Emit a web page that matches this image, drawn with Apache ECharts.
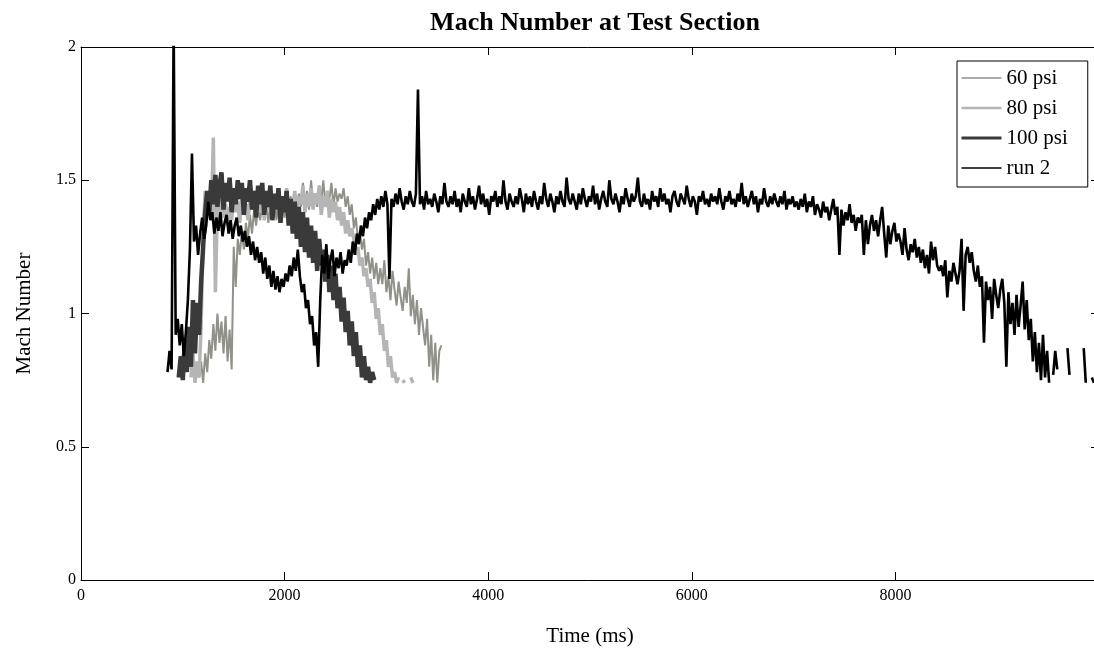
<!DOCTYPE html>
<html>
<head>
<meta charset="utf-8">
<script src="https://cdn.jsdelivr.net/npm/echarts@6/dist/echarts.min.js"></script>
<style>
html,body{margin:0;padding:0;background:#fff;}
#chart{width:1094px;height:658px;}
</style>
</head>
<body>
<div id="chart"></div>
<script>
// ---- data ----
const chartTitle = 'Mach Number at Test Section';
const xAxisName = 'Time (ms)';
const yAxisName = 'Mach Number';
const seriesNames = ['60 psi', '80 psi', '100 psi', 'run 2'];
const xMin = 0, xMax = 10000, xInterval = 2000;
const yMin = 0, yMax = 2, yInterval = 0.5;
const sampleStepMs = 20;   // sampling interval of every trace (ms)

const psi60Start = 1160;
const psi60Values = [
  0.76,0.82,0.74,0.85,0.78,0.90,0.83,0.96,0.86,1.00,
  0.89,0.97,0.85,0.99,0.82,0.94,0.79,1.25,1.10,1.28,
  1.22,1.31,1.24,1.34,1.28,1.37,1.30,1.39,1.33,1.40,
  1.35,1.41,1.36,1.43,1.34,1.40,1.37,1.42,1.35,1.41,
  1.38,1.43,1.36,1.42,1.39,1.44,1.37,1.41,1.38,1.45,
  1.40,1.49,1.41,1.46,1.39,1.50,1.42,1.45,1.40,1.48,
  1.42,1.50,1.41,1.46,1.43,1.49,1.40,1.47,1.42,1.45,
  1.43,1.47,1.40,1.44,1.37,1.41,1.32,1.36,1.28,1.31,
  1.24,1.28,1.18,1.23,1.15,1.21,1.13,1.19,1.11,1.17,
  1.11,1.20,1.08,1.14,1.05,1.16,1.09,1.03,1.12,1.06,
  1.01,1.10,1.04,1.17,0.99,1.07,0.96,1.05,0.92,1.02,
  0.95,0.88,0.98,0.80,0.92,0.75,0.89,0.74,0.86,0.88
];

const psi80Start = 1080;
const psi80Values = [
  0.76,0.85,0.74,0.82,0.76,0.95,1.30,1.46,1.38,1.44,
  1.36,1.66,1.08,1.40,1.34,1.43,1.36,1.41,1.33,1.40,
  1.35,1.44,1.38,1.42,1.34,1.45,1.37,1.41,1.35,1.43,
  1.39,1.46,1.36,1.42,1.38,1.45,1.35,1.41,1.39,1.44,
  1.37,1.43,1.40,1.46,1.36,1.42,1.39,1.47,1.38,1.43,
  1.40,1.46,1.37,1.44,1.41,1.48,1.38,1.45,1.40,1.47,
  1.39,1.45,1.41,1.48,1.37,1.44,1.40,1.46,1.36,1.43,
  1.38,1.42,1.35,1.40,1.33,1.38,1.30,1.35,1.29,1.32,
  1.28,1.22,1.25,1.18,1.21,1.14,1.17,1.10,1.13,1.04,
  1.08,0.98,1.02,0.92,0.96,0.86,0.90,0.80,0.84,0.76,
  0.78,0.74,0.76,null,0.75,0.74,null,null,0.76,0.74
];

const psi100Start = 960;
const psi100Values = [
  0.76,0.84,0.75,0.90,0.78,0.95,0.80,1.05,0.85,1.04,
  0.92,1.12,1.25,1.38,1.46,1.38,1.50,1.41,1.52,1.40,
  1.48,1.53,1.39,1.49,1.42,1.51,1.38,1.47,1.41,1.50,
  1.43,1.49,1.37,1.47,1.42,1.50,1.39,1.46,1.36,1.48,
  1.41,1.49,1.37,1.46,1.40,1.48,1.35,1.45,1.39,1.47,
  1.34,1.44,1.38,1.46,1.33,1.43,1.30,1.42,1.28,1.40,
  1.25,1.38,1.23,1.36,1.21,1.33,1.19,1.31,1.16,1.28,
  1.18,1.24,1.12,1.22,1.08,1.18,1.05,1.15,1.02,1.10,
  0.97,1.06,0.93,1.01,0.88,0.97,0.84,0.93,0.80,0.88,
  0.76,0.84,0.75,0.80,0.74,0.78,0.75
];

const run2Start = 850;
const run2Values = [
  0.78,0.86,0.79,2.10,0.92,0.98,0.88,0.96,0.84,0.93,
  1.05,1.24,1.60,1.27,1.33,1.22,1.30,1.36,1.28,1.33,
  1.42,1.35,1.38,1.30,1.36,1.31,1.38,1.29,1.34,1.37,
  1.30,1.35,1.28,1.33,1.36,1.29,1.33,1.27,1.31,1.25,
  1.29,1.22,1.27,1.20,1.25,1.19,1.23,1.15,1.21,1.13,
  1.18,1.10,1.16,1.09,1.14,1.08,1.13,1.10,1.15,1.12,
  1.18,1.14,1.21,1.16,1.24,1.14,1.08,1.11,1.02,1.05,
  0.96,0.99,0.88,0.93,0.80,1.05,1.22,1.15,1.26,1.13,
  1.20,1.24,1.14,1.21,1.17,1.23,1.15,1.20,1.18,1.24,
  1.19,1.27,1.22,1.30,1.26,1.33,1.29,1.36,1.32,1.38,
  1.35,1.41,1.37,1.43,1.39,1.44,1.40,1.46,1.41,1.13,
  1.43,1.40,1.45,1.41,1.47,1.42,1.39,1.44,1.41,1.46,
  1.42,1.40,1.45,1.84,1.41,1.44,1.39,1.46,1.41,1.43,
  1.40,1.45,1.42,1.38,1.44,1.41,1.49,1.42,1.40,1.44,
  1.41,1.46,1.40,1.43,1.38,1.45,1.42,1.40,1.47,1.41,
  1.44,1.39,1.43,1.48,1.41,1.45,1.40,1.43,1.37,1.44,
  1.42,1.46,1.40,1.44,1.41,1.50,1.42,1.39,1.45,1.42,
  1.40,1.44,1.41,1.47,1.43,1.38,1.45,1.41,1.44,1.40,
  1.46,1.42,1.39,1.44,1.41,1.49,1.43,1.40,1.45,1.42,
  1.38,1.44,1.41,1.46,1.42,1.40,1.51,1.43,1.41,1.45,
  1.42,1.39,1.45,1.41,1.47,1.43,1.40,1.44,1.42,1.48,
  1.41,1.45,1.39,1.43,1.46,1.42,1.40,1.50,1.43,1.41,
  1.45,1.42,1.38,1.44,1.41,1.47,1.43,1.40,1.45,1.42,
  1.44,1.51,1.42,1.40,1.45,1.41,1.43,1.39,1.46,1.42,
  1.44,1.40,1.47,1.42,1.45,1.41,1.43,1.38,1.44,1.46,
  1.42,1.40,1.45,1.43,1.41,1.48,1.43,1.40,1.44,1.42,
  1.37,1.44,1.42,1.46,1.41,1.43,1.40,1.45,1.42,1.44,
  1.41,1.47,1.42,1.39,1.44,1.42,1.46,1.41,1.43,1.40,
  1.45,1.42,1.49,1.41,1.44,1.40,1.43,1.46,1.41,1.44,
  1.38,1.43,1.41,1.47,1.42,1.40,1.44,1.41,1.45,1.42,
  1.40,1.44,1.41,1.46,1.39,1.43,1.41,1.44,1.40,1.42,
  1.39,1.43,1.40,1.45,1.38,1.42,1.40,1.44,1.37,1.41,
  1.39,1.36,1.42,1.38,1.40,1.35,1.39,1.43,1.37,1.40,
  1.22,1.39,1.33,1.38,1.35,1.41,1.34,1.37,1.31,1.36,
  1.34,1.37,1.22,1.35,1.26,1.33,1.37,1.31,1.35,1.29,
  1.35,1.40,1.30,1.21,1.33,1.26,1.31,1.34,1.27,1.30,
  1.27,1.22,1.32,1.24,1.20,1.26,1.23,1.28,1.21,1.25,
  1.19,1.24,1.17,1.22,1.15,1.27,1.20,1.25,1.18,1.16,
  1.18,1.14,1.20,1.06,1.16,1.12,1.19,1.15,1.11,1.16,
  1.28,1.01,1.22,1.25,1.19,1.23,1.16,1.12,1.18,1.10,
  1.14,0.89,1.12,1.05,1.10,0.98,1.13,1.07,1.02,1.09,
  1.13,1.04,0.80,1.08,0.96,1.04,0.92,1.07,0.95,1.03,
  1.12,0.94,1.05,0.90,0.98,0.82,0.93,0.78,0.89,0.75,
  0.92,0.76,0.86,0.74,null,0.77,0.86,0.79,null,null,
  null,null,0.87,0.77,null,null,null,null,null,null,
  0.87,0.74,null,null,0.76,0.74
];

// ---- build chart ----
const FONT = 'Liberation Serif';
function toPairs(start, values) {
  return values.map((v, i) => [start + i * sampleStepMs, v === null ? '-' : v]);
}
const traces = [
  { name: seriesNames[0], start: psi60Start, values: psi60Values, color: '#919189', width: 2, legendWidth: 1.5 },
  { name: seriesNames[1], start: psi80Start, values: psi80Values, color: '#b5b5b5', width: 3.5, legendWidth: 2.5 },
  { name: seriesNames[2], start: psi100Start, values: psi100Values, color: '#3a3a3a', width: 4.5, legendWidth: 3 },
  { name: seriesNames[3], start: run2Start, values: run2Values, color: '#000000', width: 2.6, legendWidth: 1.5 }
];

const chart = echarts.init(document.getElementById('chart'), null, { renderer: 'canvas' });

const axisLineStyle = { color: '#000', width: 1 };
const tickLabelStyle = { fontFamily: FONT, fontSize: 16, color: '#000' };
const nameStyle = { fontFamily: FONT, fontSize: 21, color: '#000' };

chart.setOption({
  animation: false,
  backgroundColor: '#fff',
  title: {
    text: chartTitle,
    left: 590,
    top: 5,
    textAlign: 'center',
    textStyle: { fontFamily: FONT, fontWeight: 'bold', fontSize: 26, color: '#000' }
  },
  grid: { left: 81, right: -5, top: 47, bottom: 78, containLabel: false, outerBoundsMode: 'none' },
  legend: {
    data: traces.map(t => ({ name: t.name, lineStyle: { width: t.legendWidth, color: t.color } })),
    orient: 'vertical',
    left: 957,
    top: 61,
    padding: [6, 20, 8, 3],
    itemWidth: 40,
    itemHeight: 14,
    itemGap: 8,
    borderColor: '#000',
    borderWidth: 1,
    borderRadius: 0,
    backgroundColor: '#fff',
    itemStyle: { opacity: 0 },
    selectedMode: false,
    textStyle: { fontFamily: FONT, fontSize: 21, color: '#000', lineHeight: 22 }
  },
  xAxis: [
    {
      type: 'value', position: 'bottom', min: xMin, max: xMax, interval: xInterval,
      axisLine: { show: true, onZero: false, lineStyle: axisLineStyle },
      axisTick: { show: true, inside: true, length: 8, lineStyle: axisLineStyle },
      axisLabel: Object.assign({ margin: 8, showMaxLabel: false, formatter: v => String(v) }, tickLabelStyle),
      splitLine: { show: false },
      name: xAxisName, nameLocation: 'middle', nameGap: 46, nameTextStyle: nameStyle
    },
    {
      type: 'value', position: 'top', min: xMin, max: xMax, interval: xInterval,
      axisLine: { show: true, onZero: false, lineStyle: axisLineStyle },
      axisTick: { show: true, inside: true, length: 8, lineStyle: axisLineStyle },
      axisLabel: { show: false },
      splitLine: { show: false }
    }
  ],
  yAxis: [
    {
      type: 'value', position: 'left', min: yMin, max: yMax, interval: yInterval,
      axisLine: { show: true, onZero: false, lineStyle: axisLineStyle },
      axisTick: { show: true, inside: true, length: 8, lineStyle: axisLineStyle },
      axisLabel: Object.assign({ margin: 5 }, tickLabelStyle),
      splitLine: { show: false },
      name: yAxisName, nameLocation: 'middle', nameGap: 46, nameRotate: 90, nameTextStyle: nameStyle
    },
    {
      type: 'value', position: 'right', min: yMin, max: yMax, interval: yInterval,
      axisLine: { show: true, onZero: false, lineStyle: axisLineStyle },
      axisTick: { show: true, inside: true, length: 8, lineStyle: axisLineStyle },
      axisLabel: { show: false },
      splitLine: { show: false }
    }
  ],
  series: traces.map((t, i) => ({
    name: t.name,
    type: 'line',
    xAxisIndex: 0,
    yAxisIndex: 0,
    data: toPairs(t.start, t.values),
    symbol: 'none',
    showSymbol: false,
    connectNulls: false,
    clip: true,
    sampling: null,
    z: 2 + i,
    lineStyle: { color: t.color, width: t.width, join: 'miter', miterLimit: 2 },
    itemStyle: { color: t.color },
    emphasis: { disabled: true }
  }))
});
</script>
</body>
</html>
